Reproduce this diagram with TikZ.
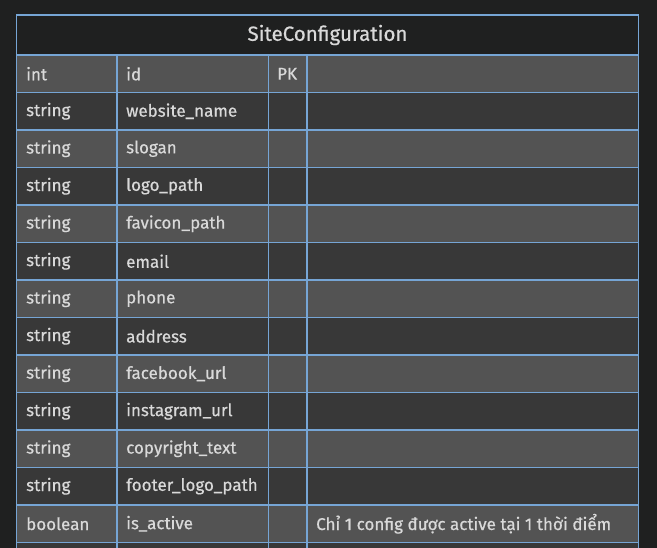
\documentclass[tikz,border=0pt]{standalone}
\usepackage{fontspec}
\setmainfont{Fira Sans}[UprightFeatures={FakeBold=0.6}]
\definecolor{bgdark}{HTML}{1F2020}
\definecolor{rowlight}{HTML}{535353}
\definecolor{rowdark}{HTML}{383838}
\definecolor{gridblue}{HTML}{76A5D5}
\definecolor{txtgray}{HTML}{D9D9D9}
\tikzset{
  cell/.style={anchor=west, inner sep=0pt, text=txtgray, font=\fontsize{17}{19}\selectfont},
  grid/.style={draw=gridblue, line width=1.3pt}
}
\begin{document}
\begin{tikzpicture}[x=1pt,y=-1pt]
  \fill[bgdark] (0,0) rectangle (657,548);
  \useasboundingbox (0,0) rectangle (657,548);
  \begin{scope}
    \clip (0,0) rectangle (657,548);
    % rows
    \foreach \ty/\nm/\ky/\cm [count=\i from 0] in {
        int/id/PK/,
        string/website\_name//,
        string/slogan//,
        string/logo\_path//,
        string/favicon\_path//,
        string/email//,
        string/phone//,
        string/address//,
        string/facebook\_url//,
        string/instagram\_url//,
        string/copyright\_text//,
        string/footer\_logo\_path//,
        boolean/is\_active//Chỉ 1 config được active tại 1 thời điểm,
        ///}
    {
      \pgfmathsetmacro{\yt}{55+37.5*\i}
      \pgfmathsetmacro{\ym}{\yt+18.75}
      \ifodd\i
        \fill[rowdark] (16.5,\yt) rectangle (638.5,\yt+37.5);
      \else
        \fill[rowlight] (16.5,\yt) rectangle (638.5,\yt+37.5);
      \fi
      \node[cell] (type\i) at (26,\ym) {\ty};
      \node[cell] (name\i) at (126,\ym) {\nm};
      \node[cell] (key\i) at (277,\ym) {\ky};
      \node[cell] (note\i) at (316,\ym) {\cm};
      \draw[grid] (16.5,\yt) -- (638.5,\yt);
      \draw[grid] (117,\yt) -- (117,\yt+37.5);
      \draw[grid] (268.5,\yt) -- (268.5,\yt+37.5);
      \draw[grid] (307,\yt) -- (307,\yt+37.5);
    }
    % title and frame
    \node[cell, anchor=center, font=\fontsize{20.5}{22}\selectfont] (title) at (327.5,35) {SiteConfiguration};
    \draw[grid] (16.5,15) rectangle (638.5,600);
  \end{scope}
\end{tikzpicture}
\end{document}
